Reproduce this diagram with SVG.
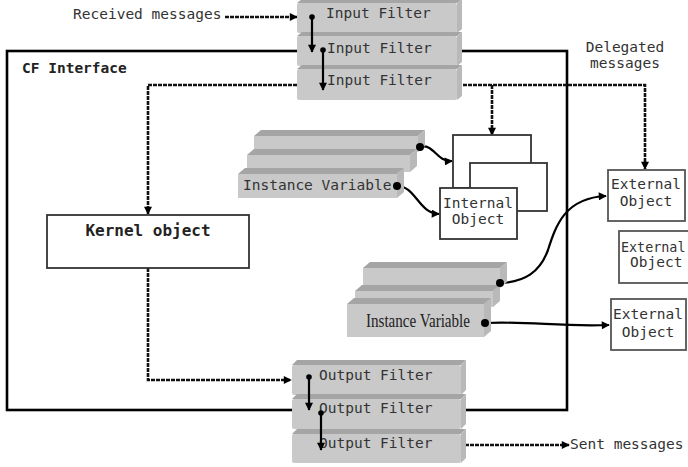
<svg xmlns="http://www.w3.org/2000/svg" width="688" height="467" viewBox="0 0 688 467">
<style>
.t{font-family:"DejaVu Sans Mono","Liberation Mono",monospace;font-size:14.5px;fill:#333}
.b{font-weight:bold;fill:#222}
.front{fill:#c9c9c9}
.top{fill:#a5a5a5}
.side{fill:#b9b9b9}
.dot{fill:#000}
.sol{fill:none;stroke:#000;stroke-width:2.2}
.dash{fill:none;stroke:#111;stroke-width:2.6;stroke-dasharray:4 1}
.box{fill:#fff;stroke:#333;stroke-width:1.8}
.ebox{fill:#fff;stroke:#555;stroke-width:1.8}
</style>
<defs>
<marker id="ah" viewBox="0 0 10 10" refX="9" refY="5" markerWidth="9" markerHeight="8" markerUnits="userSpaceOnUse" orient="auto">
<path d="M0,0 L10,5 L0,10 Z" fill="#000"/>
</marker>
</defs>

<rect id="cf-interface" x="7" y="51" width="560" height="359" fill="none" stroke="#000" stroke-width="2.6"/>
<text class="t b" x="22" y="73">CF Interface</text>

<g id="connectors">
<path class="dash" d="M225,17 L297,17" marker-end="url(#ah)"/>
<path class="dash" d="M297,85 L148,85 L148,214" marker-end="url(#ah)"/>
<path class="dash" d="M458,85 L645,85 L645,169" marker-end="url(#ah)"/>
<path class="dash" d="M492,85 L492,135" marker-end="url(#ah)"/>
<path class="dash" d="M148,268 L148,380 L291,380" marker-end="url(#ah)"/>
<path class="dash" d="M460,445 L569,445" marker-end="url(#ah)"/>
<path class="sol" d="M420,147 C434,143 436,162 452,161" marker-end="url(#ah)"/>
<path class="sol" d="M397,186 C416,186 418,213 439,214" marker-end="url(#ah)"/>
<path class="sol" d="M500,283 C525,282 540,272 548,250 C556,225 565,198 606,196" marker-end="url(#ah)"/>
<path class="sol" d="M485,323 C530,321 560,327 609,325" marker-end="url(#ah)"/>
</g>

<g id="input-filters">
<path class="top" d="M297,3 L302,-1 L462,-1 L457,3 Z"/><rect class="front" x="297" y="3" width="160" height="30" rx="2"/><path class="side" d="M457,3 L462,-1 L462,29 L457,33 Z"/>
<path class="top" d="M297,36 L302,32 L462,32 L457,36 Z"/><rect class="front" x="297" y="36" width="160" height="30" rx="2"/><path class="side" d="M457,36 L462,32 L462,62 L457,66 Z"/>
<path class="top" d="M297,69 L302,65 L462,65 L457,69 Z"/><rect class="front" x="297" y="69" width="160" height="31" rx="2"/><path class="side" d="M457,69 L462,65 L462,96 L457,100 Z"/>
<text class="t" x="326" y="18">Input Filter</text>
<text class="t" x="327" y="53">Input Filter</text>
<text class="t" x="327" y="85">Input Filter</text>
<circle class="dot" cx="312" cy="17" r="2.8"/><path class="sol" d="M312,17 L312,52" marker-end="url(#ah)"/>
<circle class="dot" cx="323" cy="50" r="2.8"/><path class="sol" d="M323,50 L323,90" marker-end="url(#ah)"/>
</g>

<g id="output-filters">
<path class="top" d="M292,365 L297,360 L466,360 L461,365 Z"/><rect class="front" x="292" y="365" width="169" height="30" rx="2"/><path class="side" d="M461,365 L466,360 L466,390 L461,395 Z"/>
<path class="top" d="M292,399 L297,394 L466,394 L461,399 Z"/><rect class="front" x="292" y="399" width="169" height="30" rx="2"/><path class="side" d="M461,399 L466,394 L466,424 L461,429 Z"/>
<path class="top" d="M292,434 L297,429 L466,429 L461,434 Z"/><rect class="front" x="292" y="434" width="169" height="29" rx="2"/><path class="side" d="M461,434 L466,429 L466,458 L461,463 Z"/>
<text class="t" x="319" y="380">Output Filter</text>
<text class="t" x="319" y="413">Output Filter</text>
<text class="t" x="319" y="448">Output Filter</text>
<circle class="dot" cx="309" cy="377" r="2.8"/><path class="sol" d="M309,377 L309,410" marker-end="url(#ah)"/>
<circle class="dot" cx="321" cy="413" r="2.8"/><path class="sol" d="M321,413 L321,450" marker-end="url(#ah)"/>
</g>

<g id="instance-variable-1">
<path class="top" d="M254,136 L261,130 L425,130 L418,136 Z"/><rect class="front" x="254" y="136" width="164" height="16"/><path class="side" d="M418,136 L425,130 L425,146 L418,152 Z"/>
<path class="top" d="M247,155 L254,149 L417,149 L410,155 Z"/><rect class="front" x="247" y="155" width="163" height="17"/><path class="side" d="M410,155 L417,149 L417,166 L410,172 Z"/>
<path class="top" d="M238,174 L245,168 L404,168 L397,174 Z"/><rect class="front" x="238" y="174" width="159" height="24"/><path class="side" d="M397,174 L404,168 L404,192 L397,198 Z"/>
<text class="t" x="243" y="190">Instance Variable</text>
<circle class="dot" cx="420" cy="147" r="4"/>
<circle class="dot" cx="397" cy="186" r="4"/>
</g>

<g id="instance-variable-2">
<path class="top" d="M363,268 L370,262 L507,262 L500,268 Z"/><rect class="front" x="363" y="268" width="137" height="20"/><path class="side" d="M500,268 L507,262 L507,282 L500,288 Z"/>
<path class="top" d="M355,291 L362,285 L500,285 L493,291 Z"/><rect class="front" x="355" y="291" width="138" height="16"/><path class="side" d="M493,291 L500,285 L500,301 L493,307 Z"/>
<path class="top" d="M347,304 L354,298 L491,298 L484,304 Z"/><rect class="front" x="347" y="304" width="137" height="33"/><path class="side" d="M484,304 L491,298 L491,331 L484,337 Z"/>
<text x="366" y="327" font-family="'Liberation Serif',serif" font-size="19" fill="#222" textLength="104" lengthAdjust="spacingAndGlyphs">Instance Variable</text>
<circle class="dot" cx="500" cy="283" r="4"/>
<circle class="dot" cx="485" cy="323" r="4"/>
</g>

<g id="kernel-object">
<rect class="box" x="47" y="215" width="202" height="53"/>
<text class="t b" x="148" y="236" text-anchor="middle" style="font-size:16px">Kernel object</text>
</g>

<g id="internal-object">
<rect class="box" x="453" y="135" width="78" height="53"/>
<rect class="box" x="470" y="163" width="77" height="48"/>
<rect class="box" x="440" y="188" width="77" height="51"/>
<text class="t" x="478" y="208" text-anchor="middle">Internal</text>
<text class="t" x="478" y="224" text-anchor="middle">Object</text>
</g>

<g id="external-object-1">
<rect class="ebox" x="608" y="170" width="77" height="51"/>
<text class="t" x="646" y="189" text-anchor="middle">External</text>
<text class="t" x="646" y="206" text-anchor="middle">Object</text>
</g>
<g id="external-object-2">
<rect class="ebox" x="619" y="231" width="80" height="52"/>
<text class="t" x="621" y="252" style="font-size:13.4px">External</text>
<text class="t" x="630" y="267">Object</text>
</g>
<g id="external-object-3">
<rect class="ebox" x="611" y="299" width="75" height="51"/>
<text class="t" x="648" y="319" text-anchor="middle">External</text>
<text class="t" x="648" y="337" text-anchor="middle">Object</text>
</g>

<text class="t" x="73" y="19">Received messages</text>
<text class="t" x="625" y="52" text-anchor="middle">Delegated</text>
<text class="t" x="625" y="68" text-anchor="middle">messages</text>
<text class="t" x="570" y="449">Sent messages</text>
</svg>
